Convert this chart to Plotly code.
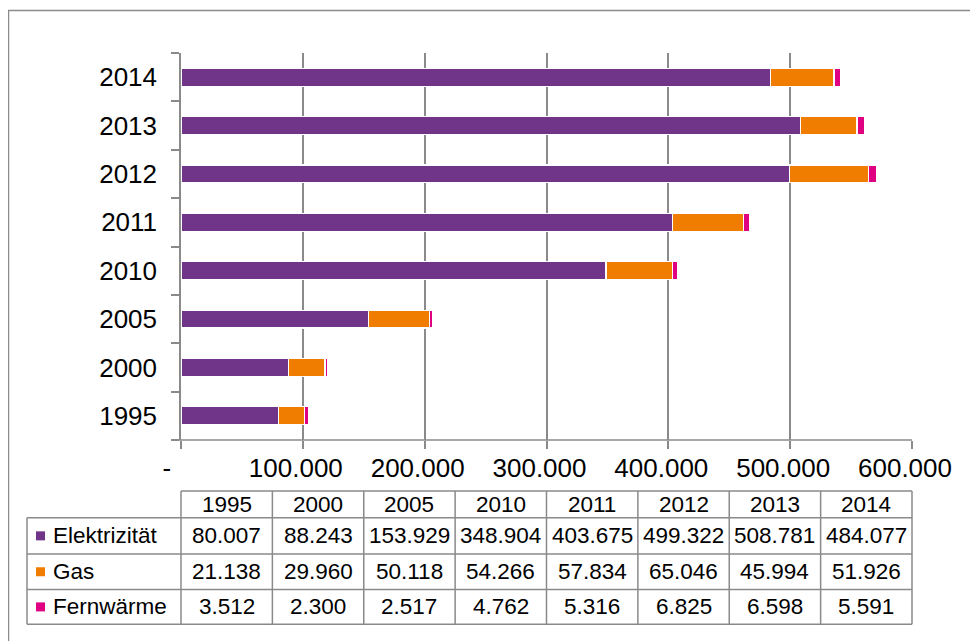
import plotly.graph_objects as go

years = ["1995", "2000", "2005", "2010", "2011", "2012", "2013", "2014"]
elektrizitaet = [80007, 88243, 153929, 348904, 403675, 499322, 508781, 484077]
gas = [21138, 29960, 50118, 54266, 57834, 65046, 45994, 51926]
fernwaerme = [3512, 2300, 2517, 4762, 5316, 6825, 6598, 5591]
series_names = ["Elektrizität", "Gas", "Fernwärme"]
colors = ["#703488", "#F07C00", "#E00082"]
x_tickvals = [0, 100000, 200000, 300000, 400000, 500000, 600000]
x_ticktext = ["-\u00a0\u00a0", "100.000", "200.000", "300.000", "400.000", "500.000", "600.000"]

W, H = 978, 641
OFF = 8  # page body margin compensation
L, R, T, B = 181 - OFF, 912 - OFF, 53 - OFF, 440 - OFF   # plot area in figure pixels
FONT = "Liberation Sans, Arial, sans-serif"
GRID = "#8a8a8a"

def px(x):
    # x given in page pixels
    return (x - OFF - L) / (R - L)

def py(y):
    # y given in page pixels
    return (B - (y - OFF)) / (B - T)

def fmt(v):
    return f"{v:,}".replace(",", ".")

fig = go.Figure()
for name, vals, col in zip(series_names, [elektrizitaet, gas, fernwaerme], colors):
    fig.add_trace(go.Bar(
        y=years, x=vals, name=name, orientation="h",
        marker=dict(color=col, line=dict(color="white", width=1.2)),
        showlegend=False,
    ))

shapes = []
annotations = []

# outer border
shapes.append(dict(type="rect", xref="paper", yref="paper",
                   x0=px(8.5), x1=px(977.5), y0=py(10.5), y1=py(670),
                   line=dict(color="#8c8c8c", width=1.5), fillcolor="rgba(0,0,0,0)", layer="below"))

# data table
PL, PR = 181, 912
col_w = (PR - PL) / len(years)
hdr_top, hdr_bot = 491, 517.7
row_bounds = [517.7, 554, 589.5, 624.3]
line_style = dict(color=GRID, width=1.5)
shapes.append(dict(type="line", xref="paper", yref="paper", x0=px(PL), x1=px(PR), y0=py(hdr_top), y1=py(hdr_top), line=line_style))
for yb in row_bounds:
    shapes.append(dict(type="line", xref="paper", yref="paper", x0=px(27), x1=px(PR), y0=py(yb), y1=py(yb), line=line_style))
shapes.append(dict(type="line", xref="paper", yref="paper", x0=px(27), x1=px(27), y0=py(row_bounds[0]), y1=py(row_bounds[-1]), line=line_style))
for i in range(len(years) + 1):
    xx = PL + i * col_w
    shapes.append(dict(type="line", xref="paper", yref="paper", x0=px(xx), x1=px(xx), y0=py(hdr_top), y1=py(row_bounds[-1]), line=line_style))

tfont = dict(family=FONT, size=22.5, color="black")
for i, yr in enumerate(years):
    cx = PL + (i + 0.5) * col_w
    annotations.append(dict(xref="paper", yref="paper", x=px(cx), y=py((hdr_top + hdr_bot) / 2),
                            text=yr, showarrow=False, font=tfont, xanchor="center", yanchor="middle"))
for r, (name, vals, col) in enumerate(zip(series_names, [elektrizitaet, gas, fernwaerme], colors)):
    cy = (row_bounds[r] + row_bounds[r + 1]) / 2
    shapes.append(dict(type="rect", xref="paper", yref="paper",
                       x0=px(36), x1=px(45), y0=py(cy - 4.5), y1=py(cy + 4.5),
                       fillcolor=col, line=dict(width=0)))
    annotations.append(dict(xref="paper", yref="paper", x=px(51), y=py(cy), text=name,
                            showarrow=False, font=tfont, xanchor="left", yanchor="middle"))
    for i, v in enumerate(vals):
        cx = PL + (i + 0.5) * col_w
        annotations.append(dict(xref="paper", yref="paper", x=px(cx), y=py(cy), text=fmt(v),
                                showarrow=False, font=tfont, xanchor="center", yanchor="middle"))

fig.update_layout(
    width=W, height=H,
    margin=dict(l=L, r=W - R, t=T, b=H - B),
    barmode="stack", bargap=0.63,
    plot_bgcolor="white", paper_bgcolor="white",
    font=dict(family=FONT, size=26, color="black"),
    shapes=shapes, annotations=annotations,
    xaxis=dict(range=[0, 600000], tickvals=x_tickvals, ticktext=x_ticktext,
               showgrid=True, gridcolor=GRID, gridwidth=1.5,
               zeroline=False, showline=False,
               ticks="outside", ticklen=8, tickwidth=1.5, tickcolor=GRID,
               ticklabelshift=-7, ticklabelstandoff=-3,
               tickfont=dict(family=FONT, size=26, color="black")),
    yaxis=dict(type="category", categoryorder="array", categoryarray=years,
               showline=True, linecolor=GRID, linewidth=1.5,
               ticks="outside", tickson="boundaries", ticklen=8, tickwidth=1.5, tickcolor=GRID,
               ticklabelstandoff=17, showgrid=False,
               tickfont=dict(family=FONT, size=26, color="black")),
)
fig.add_shape(type="line", xref="paper", yref="paper", x0=px(173), x1=px(PR), y0=0, y1=0,
              line=dict(color=GRID, width=1.5))

fig.write_html("out.html")
